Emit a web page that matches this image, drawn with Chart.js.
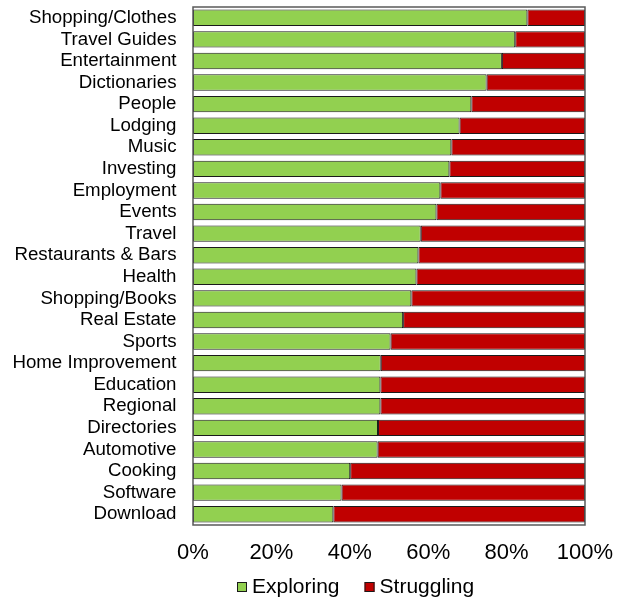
<!DOCTYPE html>
<html>
<head>
<meta charset="utf-8">
<script src="https://cdn.jsdelivr.net/npm/chart.js@4/dist/chart.umd.min.js"></script>
<style>
  body { margin: 0; background: #fff; }
  #wrap { width: 626px; height: 600px; }
</style>
</head>
<body>
<div id="wrap"><canvas id="chart"></canvas></div>
<script>
const categories = [
  "Shopping/Clothes", "Travel Guides", "Entertainment", "Dictionaries", "People",
  "Lodging", "Music", "Investing", "Employment", "Events", "Travel",
  "Restaurants & Bars", "Health", "Shopping/Books", "Real Estate", "Sports",
  "Home Improvement", "Education", "Regional", "Directories", "Automotive",
  "Cooking", "Software", "Download"
];
const exploring = [
  85.3, 82.2, 78.8, 74.9, 71.0, 68.0, 65.9, 65.4, 63.1, 62.1, 58.1, 57.5,
  57.0, 55.7, 53.6, 50.4, 47.9, 47.8, 47.8, 47.2, 47.1, 40.1, 37.9, 35.8
];
const struggling = [
  14.7, 17.8, 21.2, 25.1, 29.0, 32.0, 34.1, 34.6, 36.9, 37.9, 41.9, 42.5,
  43.0, 44.3, 46.4, 49.6, 52.1, 52.2, 52.2, 52.8, 52.9, 59.9, 62.1, 64.2
];
const xTicks = [0, 20, 40, 60, 80, 100];

const FONT = "Liberation Sans, Arial, sans-serif";

// frame around the plot area
const plotFrame = {
  id: "plotFrame",
  afterDatasetsDraw(chart) {
    const { ctx, chartArea: a } = chart;
    ctx.save();
    ctx.strokeStyle = "#595959";
    ctx.lineWidth = 1.5;
    ctx.strokeRect(a.left, a.top, a.right - a.left, a.bottom - a.top);
    ctx.restore();
  }
};

// legend row under the x axis
const bottomLegend = {
  id: "bottomLegend",
  afterDraw(chart) {
    const ctx = chart.ctx;
    const y = 587;
    const box = 10, gapText = 5, gapItem = 25;
    ctx.save();
    ctx.font = "21px " + FONT;
    ctx.textBaseline = "middle";
    let x = 237;
    chart.data.datasets.forEach(ds => {
      const w = ctx.measureText(ds.label).width;
      ctx.fillStyle = ds.backgroundColor;
      ctx.fillRect(x, y - box / 2, box, box);
      ctx.strokeStyle = "#1a1a1a";
      ctx.lineWidth = 1;
      ctx.strokeRect(x + 0.5, y - box / 2 + 0.5, box - 1, box - 1);
      ctx.fillStyle = "#000";
      ctx.fillText(ds.label, x + box + gapText, y);
      x += box + gapText + w + gapItem;
    });
    ctx.restore();
  }
};

new Chart(document.getElementById("chart"), {
  type: "bar",
  data: {
    labels: categories,
    datasets: [
      {
        label: "Exploring",
        data: exploring,
        backgroundColor: "#92D050",
        borderColor: "#1a1a1a",
        borderWidth: 1,
        borderSkipped: false,
        categoryPercentage: 1,
        barPercentage: 0.76
      },
      {
        label: "Struggling",
        data: struggling,
        backgroundColor: "#C00000",
        borderColor: "#1a1a1a",
        borderWidth: 1,
        borderSkipped: false,
        categoryPercentage: 1,
        barPercentage: 0.76
      }
    ]
  },
  options: {
    indexAxis: "y",
    responsive: true,
    maintainAspectRatio: false,
    animation: false,
    layout: { padding: { top: 7, right: 41, left: 0, bottom: 34 } },
    plugins: {
      legend: { display: false },
      tooltip: { enabled: false }
    },
    scales: {
      x: {
        stacked: true,
        min: 0,
        max: 100,
        afterBuildTicks(axis) {
          axis.ticks = xTicks.map(v => ({ value: v }));
        },
        afterFit(axis) {
          axis.height = 41;
          axis.paddingLeft = 0;
          axis.paddingRight = 0;
        },
        grid: { display: false, drawTicks: false },
        border: { display: false },
        ticks: {
          font: { family: FONT, size: 22 },
          color: "#000",
          padding: 15,
          maxRotation: 0,
          callback: v => v + "%"
        }
      },
      y: {
        stacked: true,
        grid: { display: false, drawTicks: false },
        border: { display: false },
        afterFit(axis) {
          axis.width = 193;
          axis.paddingTop = 0;
          axis.paddingBottom = 0;
        },
        ticks: {
          font: { family: FONT, size: 18.7 },
          color: "#000",
          padding: 16.5,
          autoSkip: false
        }
      }
    }
  },
  plugins: [plotFrame, bottomLegend]
});
</script>
</body>
</html>
